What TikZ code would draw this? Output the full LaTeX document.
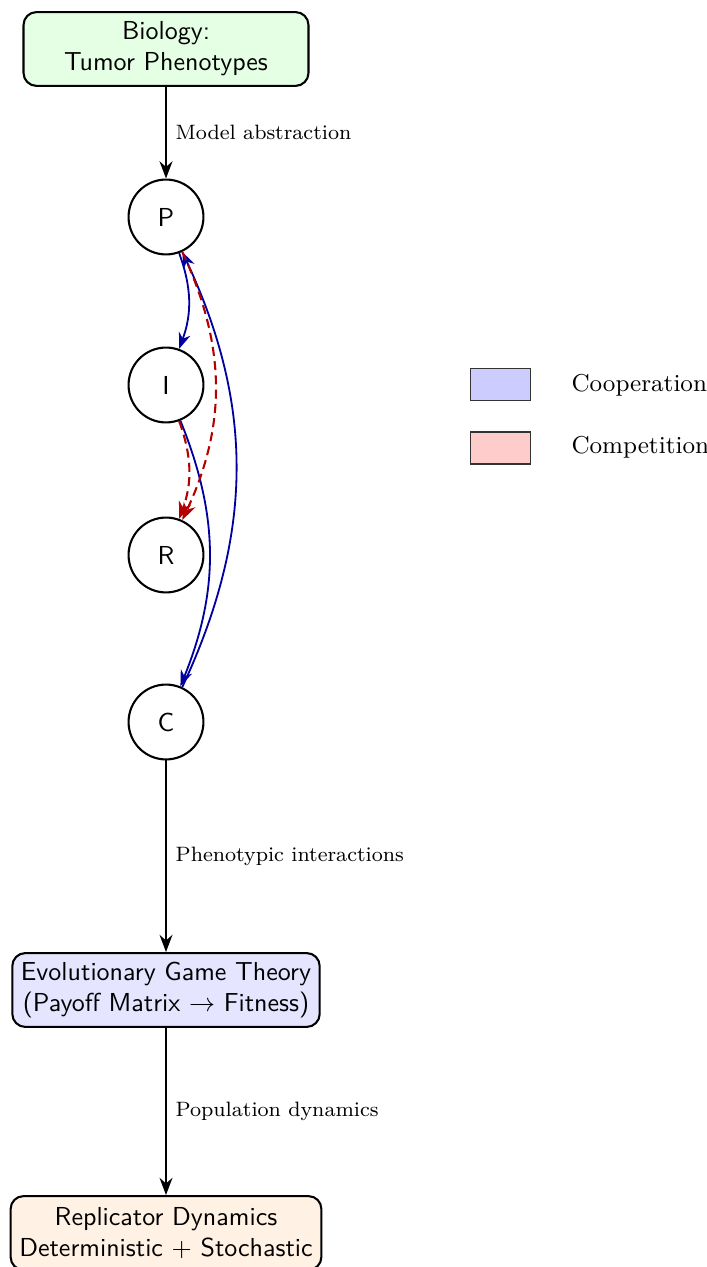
\documentclass[tikz,border=0pt]{standalone}
\usetikzlibrary{arrows.meta}
\definecolor{coopblue}{RGB}{0,0,160}
\definecolor{compred}{RGB}{180,0,0}
\begin{document}
\begin{tikzpicture}[x=0.3846pt,y=-0.3846pt,
 box/.style={draw, thick, rounded corners=5pt, align=center, font=\sffamily, minimum height=28.4pt},
 phen/.style={draw, thick, circle, minimum size=28.8pt, font=\sffamily},
 flow/.style={-{Stealth}, thick},
 coop/.style={-{Stealth}, line width=0.7pt, coopblue},
 comp/.style={-{Stealth}, thick, compred, dash pattern=on 3.5pt off 2pt},
 lab/.style={font=\footnotesize, right},
 legtext/.style={anchor=west, inner sep=0, font=\fontsize{9.4}{11}\selectfont},
 legbox/.style={draw=black!80, minimum width=23.1pt, minimum height=12.3pt}]
\useasboundingbox (0,0) rectangle (707,1267);
\node[box, fill=green!10, minimum width=109.6pt] (bio) at (166,49) {Biology:\\Tumor Phenotypes};
\node[phen] (P) at (166,217) {P};
\node[phen] (I) at (166,385) {I};
\node[phen] (R) at (166,555) {R};
\node[phen] (C) at (166,722) {C};
\node[box, fill=blue!10] (egt) at (166,990) {Evolutionary Game Theory\\(Payoff Matrix $\rightarrow$ Fitness)};
\node[box, fill=orange!10] (rep) at (166,1233) {Replicator Dynamics\\Deterministic $+$ Stochastic};
\draw[flow] (bio) -- node[lab]{Model abstraction} (P);
\draw[flow] (C) -- node[lab]{Phenotypic interactions} (egt);
\draw[flow] (egt) -- node[lab]{Population dynamics} (rep);
\draw[coop] (P) to[bend left=20] (I);
\draw[coop] (I) to[bend left=22] (C);
\draw[coop] (C) to[bend right=25] (P);
\draw[comp] (P) to[bend left=25] (R);
\draw[comp] (I) to[bend left=20] (R);
\node[legbox, fill=blue!20] (lc) at (500.5,384.5) {};
\node[legtext] (lct) at (571,385) {Cooperation};
\node[legbox, fill=red!20] (lr) at (500.5,448) {};
\node[legtext] (lrt) at (571,447) {Competition};
\end{tikzpicture}
\end{document}
